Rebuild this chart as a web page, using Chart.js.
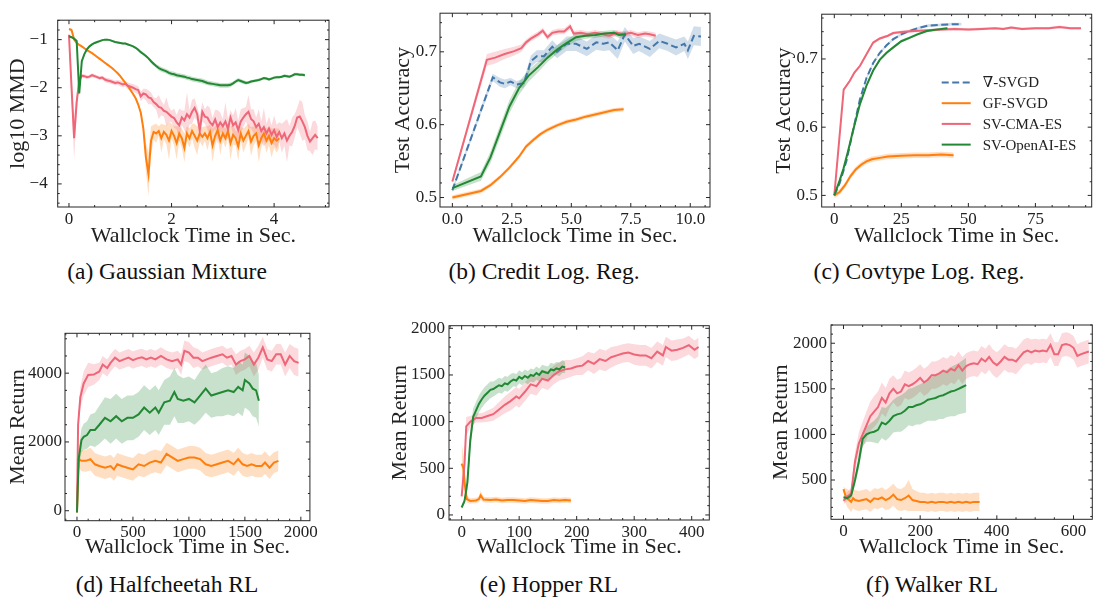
<!DOCTYPE html>
<html>
<head>
<meta charset="utf-8">
<script src="https://cdn.jsdelivr.net/npm/chart.js@4/dist/chart.umd.min.js"></script>
<style>
  body { margin: 0; background: #fff; width: 1094px; height: 601px; position: relative; overflow: hidden; font-family: 'Liberation Serif', 'DejaVu Serif', serif; }
  canvas { position: absolute; }
  .cap { position: absolute; font-size: 23.5px; color: #111; transform: translate(-50%, -50%); white-space: nowrap; line-height: 1; }
</style>
</head>
<body>
<div class="cap" style="left:167px;top:272px">(a) Gaussian Mixture</div>
<div class="cap" style="left:544px;top:272px">(b) Credit Log. Reg.</div>
<div class="cap" style="left:919px;top:272px">(c) Covtype Log. Reg.</div>
<div class="cap" style="left:167px;top:585px">(d) Halfcheetah RL</div>
<div class="cap" style="left:549px;top:585px">(e) Hopper RL</div>
<div class="cap" style="left:932px;top:585px">(f) Walker RL</div>
<script>
// series colours
const BLUE = '#4477AA', ORANGE = '#FF7F0E', PINK = '#EE6677', GREEN = '#228833';
const NAMES = ['\u2207-SVGD', 'GF-SVGD', 'SV-CMA-ES', 'SV-OpenAI-ES'];

// ---- (a) Gaussian mixture: log10 MMD over time ----
const mixXTicks = [0, 2, 4];
const mixYTicks = [-4, -3, -2, -1];
const mixTime = [
  0, 0.05, 0.1, 0.15, 0.2, 0.25, 0.3, 0.35, 0.4, 0.45,
  0.5, 0.55, 0.6, 0.65, 0.7, 0.75, 0.8, 0.85, 0.9, 0.95,
  1.0, 1.05, 1.1, 1.15, 1.2, 1.25, 1.3, 1.35, 1.4, 1.45,
  1.5, 1.55, 1.6, 1.65, 1.7, 1.75, 1.8, 1.85, 1.9, 1.95,
  2.0, 2.05, 2.1, 2.15, 2.2, 2.25, 2.3, 2.35, 2.4, 2.45,
  2.5, 2.55, 2.6, 2.65, 2.7, 2.75, 2.8, 2.85, 2.9, 2.95,
  3.0, 3.05, 3.1, 3.15, 3.2, 3.25, 3.3, 3.35, 3.4, 3.45,
  3.5, 3.55, 3.6, 3.65, 3.7, 3.75, 3.8, 3.85, 3.9, 3.95,
  4.0, 4.05, 4.1, 4.15, 4.2, 4.25, 4.3, 4.35, 4.4, 4.45,
  4.5, 4.55, 4.6, 4.65, 4.7, 4.75, 4.8, 4.85
];
const mixGf = [
  -0.78, -0.8, -1.0, -1.07, -1.11, -1.14, -1.18, -1.22, -1.25, -1.28,
  -1.32, -1.36, -1.4, -1.44, -1.48, -1.52, -1.56, -1.6, -1.65, -1.7,
  -1.76, -1.83, -1.9, -1.97, -2.05, -2.13, -2.22, -2.35, -2.52, -2.85,
  -3.45, -3.8, -3.1, -2.92, -2.95, -2.9, -3.05, -2.92, -2.98, -3.1,
  -2.9, -3.0, -3.15, -2.95, -3.05, -3.25, -2.95, -3.05, -2.9, -3.0,
  -3.1, -2.95, -3.02, -2.95, -3.05, -2.92, -3.2, -3.0, -2.88, -3.1,
  -2.95, -3.05, -2.9, -3.15, -2.98, -3.05, -3.22, -2.95, -3.1, -3.0,
  -2.9, -3.12, -3.0, -2.95, -3.2, -3.05, -2.95, -3.1, -3.0, -3.15,
  -3.05, -3.1, -3.05
];
const mixGfSd = [
  0.02, 0.03, 0.02, 0.02, 0.02, 0.02, 0.02, 0.02, 0.02, 0.02,
  0.02, 0.02, 0.02, 0.02, 0.02, 0.02, 0.02, 0.02, 0.02, 0.02,
  0.02, 0.02, 0.02, 0.02, 0.02, 0.02, 0.03, 0.03, 0.05, 0.1,
  0.3, 0.45, 0.3, 0.15, 0.2, 0.1, 0.3, 0.15, 0.2, 0.4,
  0.15, 0.2, 0.35, 0.15, 0.2, 0.3, 0.15, 0.2, 0.15, 0.25,
  0.3, 0.15, 0.2, 0.15, 0.25, 0.15, 0.35, 0.2, 0.15, 0.3,
  0.15, 0.2, 0.15, 0.35, 0.2, 0.15, 0.3, 0.15, 0.25, 0.2,
  0.15, 0.3, 0.2, 0.15, 0.35, 0.2, 0.15, 0.25, 0.2, 0.3,
  0.2, 0.25, 0.2
];
const mixCma = [
  -0.9, -2.0, -3.05, -2.3, -1.85, -1.75, -1.76, -1.78, -1.77, -1.74,
  -1.76, -1.78, -1.8, -1.79, -1.83, -1.85, -1.86, -1.88, -1.9, -1.89,
  -1.91, -1.93, -1.92, -1.96, -1.98, -2.0, -2.03, -2.05, -2.18, -2.12,
  -2.14, -2.2, -2.22, -2.3, -2.34, -2.4, -2.42, -2.48, -2.5, -2.55,
  -2.6, -2.63, -2.72, -2.78, -2.62, -2.68, -2.55, -2.62, -2.5, -2.42,
  -2.55, -2.88, -2.5, -2.6, -2.62, -2.72, -2.78, -2.66, -2.82, -2.72,
  -2.8, -2.7, -2.85, -2.62, -2.78, -2.72, -2.88, -2.7, -2.62, -2.55,
  -2.5, -2.65, -2.7, -2.82, -2.75, -2.9, -2.82, -2.95, -2.85, -2.98,
  -2.88, -3.02, -2.92, -3.05, -2.95, -3.1, -3.0, -2.92, -2.8, -2.62,
  -2.6, -2.7, -2.82, -3.0, -3.12, -3.05, -2.98, -3.05
];
const mixCmaSd = [
  0.03, 0.3, 0.45, 0.2, 0.05, 0.04, 0.04, 0.04, 0.04, 0.04,
  0.04, 0.04, 0.04, 0.04, 0.05, 0.05, 0.05, 0.05, 0.05, 0.05,
  0.06, 0.06, 0.06, 0.07, 0.07, 0.08, 0.08, 0.08, 0.1, 0.1,
  0.12, 0.15, 0.12, 0.1, 0.12, 0.25, 0.15, 0.12, 0.3, 0.15,
  0.12, 0.2, 0.15, 0.35, 0.15, 0.2, 0.45, 0.15, 0.25, 0.2,
  0.15, 0.3, 0.2, 0.15, 0.25, 0.3, 0.15, 0.2, 0.35, 0.2,
  0.15, 0.4, 0.2, 0.15, 0.2, 0.3, 0.2, 0.25, 0.2, 0.15,
  0.35, 0.2, 0.25, 0.2, 0.3, 0.2, 0.4, 0.2, 0.25, 0.2,
  0.3, 0.25, 0.2, 0.3, 0.25, 0.45, 0.2, 0.3, 0.25, 0.2,
  0.35, 0.4, 0.25, 0.3, 0.2, 0.35, 0.3, 0.25
];
const mixOai = [
  -0.93, -0.95, -0.98, -1.03, -2.12, -1.45, -1.3, -1.2, -1.14, -1.1,
  -1.07, -1.05, -1.03, -1.01, -1.0, -1.0, -1.01, -1.03, -1.05, -1.06,
  -1.07, -1.08, -1.08, -1.1, -1.12, -1.14, -1.17, -1.21, -1.26, -1.3,
  -1.34, -1.39, -1.45, -1.5, -1.55, -1.59, -1.62, -1.64, -1.66, -1.69,
  -1.71, -1.72, -1.74, -1.75, -1.76, -1.77, -1.79, -1.8, -1.82, -1.83,
  -1.84, -1.85, -1.86, -1.88, -1.9, -1.91, -1.92, -1.93, -1.94, -1.95,
  -1.95, -1.95, -1.95, -1.94, -1.91, -1.87, -1.84, -1.86, -1.88, -1.9,
  -1.89, -1.87, -1.86, -1.85, -1.84, -1.82, -1.8, -1.81, -1.83, -1.81,
  -1.79, -1.78, -1.78, -1.77, -1.75, -1.76, -1.77, -1.75, -1.72, -1.72,
  -1.73, -1.73, -1.74
];
const mixOaiSd = [
  0.02, 0.02, 0.02, 0.03, 0.05, 0.04, 0.02, 0.02, 0.02, 0.02,
  0.02, 0.02, 0.02, 0.02, 0.02, 0.02, 0.02, 0.02, 0.02, 0.02,
  0.02, 0.02, 0.02, 0.02, 0.02, 0.02, 0.02, 0.03, 0.03, 0.03,
  0.03, 0.03, 0.04, 0.04, 0.04, 0.05, 0.05, 0.05, 0.05, 0.05,
  0.05, 0.05, 0.05, 0.05, 0.05, 0.05, 0.05, 0.05, 0.05, 0.05,
  0.05, 0.05, 0.05, 0.05, 0.05, 0.05, 0.05, 0.05, 0.05, 0.05,
  0.05, 0.05, 0.05, 0.05, 0.04, 0.04, 0.04, 0.04, 0.04, 0.04,
  0.03, 0.03, 0.03, 0.03, 0.03, 0.03, 0.03, 0.03, 0.03, 0.03,
  0.03, 0.03, 0.03, 0.03, 0.03, 0.03, 0.03, 0.03, 0.03, 0.03,
  0.03, 0.03, 0.03
];

// ---- (b) Credit logistic regression ----
const crXTicks = [0, 2.5, 5, 7.5, 10];
const crYTicks = [0.5, 0.6, 0.7];
const crGradT = [0, 1.7, 2.0, 2.2, 2.45, 2.7, 3.0, 3.15, 3.3, 3.55, 3.85, 4.2, 4.4, 4.8, 5.2, 5.65, 6.05, 6.35, 6.6, 6.95, 7.25, 7.6, 7.85, 8.3, 8.7, 9.05, 9.4, 9.75, 9.9, 10.15, 10.45];
const crGrad = [0.510, 0.665, 0.658, 0.656, 0.659, 0.655, 0.657, 0.671, 0.687, 0.694, 0.694, 0.707, 0.700, 0.711, 0.711, 0.704, 0.713, 0.711, 0.713, 0.702, 0.724, 0.708, 0.711, 0.704, 0.715, 0.711, 0.706, 0.711, 0.702, 0.722, 0.721];
const crGradSd = [0.003, 0.005, 0.006, 0.006, 0.005, 0.005, 0.006, 0.007, 0.008, 0.008, 0.008, 0.009, 0.009, 0.01, 0.01, 0.01, 0.01, 0.01, 0.011, 0.012, 0.01, 0.011, 0.01, 0.011, 0.01, 0.01, 0.011, 0.01, 0.012, 0.013, 0.013];
const crGfT = [0, 1.2, 1.6, 2.0, 2.4, 2.8, 3.1, 3.4, 3.7, 4.0, 4.4, 4.8, 5.2, 5.6, 6.0, 6.4, 6.8, 7.2];
const crGf = [0.5, 0.509, 0.517, 0.528, 0.541, 0.556, 0.57, 0.579, 0.587, 0.593, 0.599, 0.604, 0.607, 0.611, 0.614, 0.617, 0.62, 0.621];
const crCmaT = [0, 1.45, 1.8, 2.2, 2.6, 2.9, 3.1, 3.3, 3.6, 3.8, 4.0, 4.2, 4.45, 4.7, 4.95, 5.1, 5.4, 5.7, 6.0, 6.3, 6.6, 6.9, 7.2, 7.5, 7.8, 8.1, 8.3, 8.55];
const crCma = [0.522, 0.689, 0.692, 0.697, 0.701, 0.705, 0.713, 0.718, 0.724, 0.729, 0.720, 0.726, 0.728, 0.728, 0.735, 0.725, 0.726, 0.724, 0.726, 0.724, 0.722, 0.726, 0.724, 0.726, 0.723, 0.725, 0.724, 0.722];
const crCmaSd = [0.003, 0.008, 0.008, 0.007, 0.006, 0.005, 0.004, 0.004, 0.004, 0.004, 0.004, 0.004, 0.004, 0.004, 0.004, 0.004, 0.004, 0.004, 0.004, 0.004, 0.004, 0.004, 0.004, 0.004, 0.004, 0.004, 0.004, 0.004];
const crOaiT = [0, 1.2, 1.6, 2.0, 2.4, 2.8, 3.2, 3.6, 4.0, 4.4, 4.8, 5.2, 5.6, 6.0, 6.4, 6.8, 7.0, 7.3];
const crOai = [0.513, 0.529, 0.555, 0.59, 0.625, 0.65, 0.667, 0.679, 0.692, 0.703, 0.712, 0.72, 0.722, 0.723, 0.725, 0.726, 0.723, 0.724];
const crOaiSd = [0.004, 0.006, 0.008, 0.009, 0.009, 0.009, 0.008, 0.007, 0.006, 0.006, 0.005, 0.005, 0.004, 0.004, 0.004, 0.004, 0.004, 0.004];

// ---- (c) Covtype logistic regression ----
const cvXTicks = [0, 25, 50, 75];
const cvYTicks = [0.5, 0.6, 0.7];
const cvGradT = [0, 2, 4.5, 7, 9.5, 12, 14.5, 17, 19.5, 22, 25, 28, 31, 35, 40, 44, 47.5];
const cvGrad = [0.5, 0.518, 0.55, 0.595, 0.64, 0.672, 0.694, 0.709, 0.72, 0.729, 0.736, 0.741, 0.745, 0.749, 0.75, 0.751, 0.751];
const cvGfT = [0, 2, 4, 6, 8, 10, 12, 14, 17, 20, 25, 30, 35, 40, 44.5];
const cvGf = [0.5, 0.505, 0.515, 0.528, 0.538, 0.545, 0.55, 0.553, 0.555, 0.557, 0.558, 0.559, 0.559, 0.56, 0.559];
const cvCmaT = [0, 3.5, 5.8, 7.5, 9.6, 12, 14.5, 17, 20, 22, 26, 30, 35, 40, 45, 50, 55, 60, 63, 66, 70, 75, 80, 84, 88, 92];
const cvCma = [0.5, 0.655, 0.668, 0.68, 0.69, 0.707, 0.724, 0.73, 0.734, 0.738, 0.74, 0.741, 0.742, 0.743, 0.744, 0.743, 0.744, 0.745, 0.744, 0.746, 0.744, 0.745, 0.745, 0.747, 0.745, 0.745];
const cvOaiT = [0, 2, 3.4, 5, 7, 9.5, 12, 14.5, 17, 19.5, 22, 25, 28, 31, 34.5, 38, 42.2];
const cvOai = [0.5, 0.522, 0.539, 0.563, 0.595, 0.633, 0.661, 0.683, 0.699, 0.709, 0.717, 0.726, 0.731, 0.736, 0.741, 0.743, 0.745];

// ---- (d) Halfcheetah ----
const hcXTicks = [0, 500, 1000, 1500, 2000];
const hcYTicks = [0, 2000, 4000];
const hcCmaT = [0, 10, 30, 60, 100, 150, 200, 230, 270, 300, 340, 380, 420, 460, 500, 540, 580, 620, 660, 700, 750, 800, 850, 900, 930, 960, 1000, 1040, 1080, 1120, 1160, 1200, 1250, 1300, 1340, 1380, 1420, 1460, 1500, 1540, 1580, 1620, 1660, 1700, 1740, 1780, 1820, 1860, 1900, 1940, 1980];
const hcCma = [0, 2500, 3300, 3700, 3950, 3960, 4050, 4250, 4150, 4300, 4450, 4350, 4400, 4450, 4380, 4430, 4460, 4400, 4450, 4400, 4500, 4400, 4350, 4400, 4250, 4650, 4600, 4450, 4450, 4350, 4400, 4450, 4500, 4550, 4450, 4500, 4250, 4350, 4400, 4500, 4250, 4450, 4750, 4400, 4350, 4550, 4550, 4250, 4500, 4350, 4300];
const hcCmaSd = [0, 200, 300, 350, 350, 300, 250, 250, 250, 250, 250, 250, 250, 250, 250, 250, 250, 250, 250, 250, 250, 250, 250, 250, 300, 300, 300, 300, 250, 250, 250, 250, 250, 250, 250, 250, 300, 300, 300, 300, 350, 350, 300, 300, 300, 300, 300, 350, 350, 400, 400];
const hcOaiT = [0, 15, 40, 60, 90, 120, 160, 200, 250, 300, 350, 400, 450, 500, 550, 600, 650, 700, 730, 780, 830, 870, 900, 950, 1000, 1050, 1100, 1150, 1200, 1250, 1300, 1350, 1400, 1440, 1480, 1500, 1540, 1570, 1600, 1625];
const hcOai = [-50, 1500, 2050, 2150, 2200, 2350, 2350, 2500, 2700, 2600, 2750, 2600, 2700, 2700, 2800, 3000, 2850, 3000, 2850, 3150, 3200, 3450, 3250, 3200, 3250, 3150, 3350, 3550, 3350, 3400, 3450, 3500, 3450, 3600, 3500, 3800, 3700, 3550, 3500, 3200];
const hcOaiSd = [0, 300, 350, 380, 400, 450, 500, 550, 600, 650, 650, 650, 650, 650, 650, 650, 650, 650, 650, 650, 700, 700, 700, 650, 650, 650, 700, 700, 650, 650, 700, 700, 700, 750, 750, 800, 800, 800, 800, 750];
const hcGfT = [0, 15, 40, 80, 120, 160, 200, 250, 300, 330, 360, 400, 450, 500, 550, 600, 650, 700, 750, 800, 850, 900, 950, 1000, 1050, 1100, 1150, 1200, 1250, 1300, 1350, 1400, 1440, 1480, 1520, 1560, 1600, 1650, 1680, 1720, 1760, 1800];
const hcGf = [-50, 1500, 1450, 1450, 1500, 1350, 1300, 1250, 1300, 1200, 1350, 1300, 1250, 1200, 1350, 1300, 1400, 1450, 1400, 1650, 1550, 1450, 1500, 1550, 1550, 1500, 1350, 1300, 1350, 1400, 1450, 1350, 1500, 1350, 1300, 1350, 1300, 1300, 1400, 1250, 1400, 1450];
const hcGfSd = [0, 250, 300, 320, 330, 330, 330, 330, 330, 330, 330, 330, 330, 330, 330, 330, 330, 330, 330, 330, 330, 330, 330, 330, 330, 330, 330, 330, 330, 330, 330, 330, 330, 330, 330, 330, 330, 330, 330, 330, 300, 300];

// ---- (e) Hopper ----
const hoXTicks = [0, 100, 200, 300, 400];
const hoYTicks = [0, 500, 1000, 1500, 2000];
const hoCmaT = [0, 5, 8, 15, 25, 35, 45, 55, 65, 75, 85, 95, 100, 110, 120, 130, 140, 150, 160, 170, 180, 190, 200, 210, 220, 230, 240, 250, 260, 270, 280, 290, 300, 310, 320, 330, 340, 350, 355, 365, 375, 385, 395, 405, 412];
const hoCma = [200, 550, 950, 1000, 1040, 1040, 1060, 1080, 1130, 1180, 1220, 1270, 1250, 1320, 1400, 1380, 1460, 1440, 1500, 1540, 1560, 1570, 1590, 1600, 1650, 1620, 1670, 1650, 1690, 1710, 1730, 1740, 1720, 1710, 1710, 1680, 1750, 1710, 1800, 1760, 1770, 1790, 1820, 1770, 1800];
const hoCmaSd = [50, 100, 100, 60, 50, 50, 60, 70, 80, 90, 100, 100, 100, 100, 100, 100, 100, 100, 100, 100, 100, 90, 90, 100, 100, 110, 110, 110, 110, 100, 100, 100, 110, 110, 110, 110, 110, 110, 110, 110, 110, 100, 100, 100, 100];
const hoOaiT = [0, 5, 10, 15, 20, 25, 30, 35, 40, 45, 50, 55, 60, 65, 70, 75, 80, 85, 90, 95, 100, 105, 110, 115, 120, 125, 130, 135, 140, 145, 150, 155, 160, 165, 170, 175, 180];
const hoOai = [80, 150, 350, 800, 1050, 1120, 1190, 1240, 1280, 1310, 1340, 1350, 1370, 1390, 1380, 1410, 1400, 1430, 1450, 1440, 1480, 1460, 1490, 1470, 1500, 1490, 1520, 1500, 1540, 1530, 1520, 1560, 1550, 1570, 1560, 1590, 1580];
const hoOaiSd = [20, 30, 80, 100, 90, 90, 90, 90, 90, 90, 90, 80, 80, 80, 80, 80, 80, 80, 70, 70, 70, 70, 70, 70, 70, 70, 70, 70, 70, 70, 70, 70, 70, 70, 70, 70, 60];
const hoGfT = [0, 3, 6, 9, 15, 25, 30, 33, 38, 50, 60, 70, 80, 90, 100, 110, 120, 130, 140, 150, 160, 170, 180, 190];
const hoGf = [550, 500, 300, 170, 150, 155, 170, 210, 165, 160, 165, 155, 160, 160, 155, 150, 160, 155, 150, 150, 160, 155, 160, 155];
const hoGfSd = [220, 150, 100, 40, 30, 30, 30, 50, 30, 30, 30, 30, 30, 30, 30, 30, 30, 30, 30, 30, 30, 30, 30, 30];

// ---- (f) Walker ----
const wkXTicks = [0, 200, 400, 600];
const wkYTicks = [500, 1000, 1500, 2000];
const wkCmaT = [0, 10, 20, 30, 40, 50, 60, 70, 80, 90, 100, 110, 120, 130, 140, 150, 160, 170, 180, 190, 200, 210, 220, 230, 240, 250, 260, 270, 280, 290, 300, 310, 320, 330, 340, 350, 360, 370, 380, 390, 400, 410, 420, 430, 440, 450, 460, 470, 480, 490, 500, 510, 520, 530, 540, 550, 560, 570, 580, 590, 600, 610, 620, 640];
const wkCma = [270, 320, 350, 700, 900, 1000, 1100, 1200, 1250, 1300, 1400, 1350, 1450, 1500, 1450, 1470, 1550, 1530, 1550, 1580, 1620, 1570, 1600, 1650, 1650, 1670, 1700, 1680, 1720, 1700, 1760, 1700, 1750, 1770, 1780, 1770, 1830, 1800, 1850, 1790, 1760, 1800, 1850, 1820, 1820, 1800, 1850, 1900, 1920, 1900, 1920, 1910, 1920, 1910, 1980, 1880, 1880, 1980, 1990, 1980, 1950, 1860, 1880, 1910];
const wkCmaSd = [40, 50, 60, 100, 120, 140, 150, 160, 170, 170, 170, 160, 160, 150, 150, 150, 150, 150, 150, 150, 150, 150, 150, 150, 150, 150, 150, 150, 150, 150, 150, 150, 140, 140, 140, 140, 140, 140, 140, 140, 140, 140, 140, 140, 140, 140, 140, 140, 140, 140, 130, 130, 130, 130, 130, 130, 130, 130, 130, 130, 130, 130, 130, 130];
const wkOaiT = [0, 10, 20, 30, 40, 50, 60, 70, 80, 90, 100, 110, 120, 130, 140, 150, 160, 170, 180, 190, 200, 210, 220, 230, 240, 250, 260, 270, 280, 290, 300, 310, 320];
const wkOai = [310, 300, 330, 500, 700, 950, 1000, 1020, 1030, 1050, 1130, 1110, 1150, 1200, 1220, 1230, 1260, 1300, 1300, 1320, 1330, 1350, 1380, 1390, 1400, 1420, 1430, 1450, 1470, 1480, 1500, 1520, 1540];
const wkOaiSd = [20, 20, 30, 60, 80, 80, 80, 100, 120, 150, 170, 180, 180, 180, 190, 200, 200, 200, 210, 210, 220, 220, 230, 240, 250, 250, 260, 260, 270, 280, 280, 290, 300];
const wkGfT = [0, 5, 10, 20, 25, 30, 40, 50, 60, 70, 80, 90, 100, 110, 120, 130, 140, 150, 160, 170, 180, 190, 200, 210, 220, 230, 240, 250, 260, 270, 280, 290, 300, 310, 320, 330, 340, 355];
const wkGf = [400, 330, 300, 260, 300, 280, 270, 280, 290, 260, 300, 290, 310, 280, 300, 340, 290, 280, 300, 330, 280, 270, 260, 260, 250, 260, 250, 260, 260, 250, 260, 250, 260, 250, 260, 250, 260, 260];
const wkGfSd = [30, 80, 100, 110, 110, 110, 110, 110, 110, 110, 110, 110, 110, 110, 120, 120, 120, 120, 130, 170, 120, 110, 100, 100, 100, 100, 100, 100, 100, 100, 100, 100, 100, 100, 100, 100, 100, 100];

const FONT = "'Liberation Serif', 'DejaVu Serif', serif";
const INK = '#222';

function fade(hex, a) {
  const n = parseInt(hex.slice(1), 16);
  return `rgba(${n >> 16}, ${(n >> 8) & 255}, ${n & 255}, ${a})`;
}

// inward ticks on all four sides plus the box, matplotlib style
function framePlugin(xMinor, yMinor) {
  return {
    id: 'frame',
    afterDraw(chart) {
      const { ctx, chartArea: a, scales: { x, y } } = chart;
      ctx.save();
      ctx.strokeStyle = '#262626';
      ctx.lineWidth = 1;
      ctx.strokeRect(a.left, a.top, a.right - a.left, a.bottom - a.top);
      const marks = (scale, step) => {
        const major = scale.ticks.map(t => t.value);
        const out = major.map(v => [v, 4]);
        for (let v = Math.ceil(scale.min / step) * step; v <= scale.max; v += step) {
          if (!major.some(m => Math.abs(m - v) < step * 0.01)) out.push([v, 2]);
        }
        return out;
      };
      ctx.beginPath();
      marks(x, xMinor).forEach(([v, len]) => {
        const px = x.getPixelForValue(v);
        if (px < a.left || px > a.right) return;
        ctx.moveTo(px, a.bottom); ctx.lineTo(px, a.bottom - len);
        ctx.moveTo(px, a.top); ctx.lineTo(px, a.top + len);
      });
      marks(y, yMinor).forEach(([v, len]) => {
        const py = y.getPixelForValue(v);
        if (py < a.top || py > a.bottom) return;
        ctx.moveTo(a.left, py); ctx.lineTo(a.left + len, py);
        ctx.moveTo(a.right, py); ctx.lineTo(a.right - len, py);
      });
      ctx.stroke();
      ctx.restore();
    }
  };
}

// legend drawn inside the plot area
function insetLegend(dx, dy, gap) {
  return {
    id: 'insetLegend',
    afterDraw(chart) {
      const { ctx, chartArea: a } = chart;
      const items = chart.data.datasets.filter(d => d.label);
      ctx.save();
      ctx.font = `15px ${FONT}`;
      ctx.textBaseline = 'middle';
      ctx.fillStyle = INK;
      items.forEach((d, i) => {
        const x0 = a.left + dx, y0 = a.top + dy + i * gap;
        ctx.strokeStyle = d.borderColor;
        ctx.lineWidth = 2;
        ctx.setLineDash(d.borderDash || []);
        ctx.beginPath(); ctx.moveTo(x0, y0); ctx.lineTo(x0 + 29, y0); ctx.stroke();
        ctx.setLineDash([]);
        ctx.fillText(d.label, x0 + 41, y0 + 1);
      });
      ctx.restore();
    }
  };
}

function buildDatasets(series) {
  const sets = [];
  series.forEach((s, k) => {
    const sd = i => Array.isArray(s.sd) ? s.sd[i] : s.sd;
    sets.push({ label: '', data: s.y.map((v, i) => ({ x: s.x[i], y: v + sd(i) })), fill: '+1',
      backgroundColor: fade(s.color, 0.25), borderWidth: 0, pointRadius: 0, order: 40 - k });
    sets.push({ label: '', data: s.y.map((v, i) => ({ x: s.x[i], y: v - sd(i) })), fill: false,
      borderWidth: 0, pointRadius: 0, order: 40 - k });
    sets.push({ label: s.label, data: s.y.map((v, i) => ({ x: s.x[i], y: v })), fill: false,
      borderColor: s.color, borderWidth: 2, borderDash: s.dash || [], pointRadius: 0, order: 20 - k });
  });
  return sets;
}

function panel(box, area, ax, series, extra) {
  const cv = document.createElement('canvas');
  cv.width = box.width; cv.height = box.height;
  cv.style.left = box.left + 'px'; cv.style.top = box.top + 'px';
  document.body.appendChild(cv);
  const tickFont = { family: FONT, size: 17 };
  const titleFont = { family: FONT, size: 22 };
  const plugins = [framePlugin(ax.xMinor, ax.yMinor)];
  if (extra) plugins.push(extra);
  const fixTicks = list => s => { s.ticks = list.map(value => ({ value })); };
  return new Chart(cv, {
    type: 'line',
    data: { datasets: buildDatasets(series) },
    plugins,
    options: {
      responsive: false, animation: false, devicePixelRatio: 1,
      layout: { padding: { top: area.t - box.top, right: box.left + box.width - area.r, left: 0, bottom: 0 } },
      plugins: { legend: { display: false }, tooltip: { enabled: false } },
      elements: { line: { tension: 0 } },
      scales: {
        x: {
          type: 'linear', min: ax.xMin, max: ax.xMax,
          afterBuildTicks: fixTicks(ax.xTicks),
          afterFit: s => { s.height = box.top + box.height - area.b; },
          grid: { display: false, drawTicks: false }, border: { display: false },
          ticks: { padding: 2, maxRotation: 0, autoSkip: false,
            font: tickFont, color: INK, callback: ax.xFmt || (v => String(v)) },
          title: { display: true, text: 'Wallclock Time in Sec.', font: titleFont, color: INK, padding: 0 }
        },
        y: {
          type: 'linear', min: ax.yMin, max: ax.yMax,
          afterBuildTicks: fixTicks(ax.yTicks),
          afterFit: s => { s.width = area.l - box.left; },
          grid: { display: false, drawTicks: false }, border: { display: false },
          ticks: { padding: ax.yPad, autoSkip: false,
            font: tickFont, color: INK, callback: ax.yFmt || (v => String(v)) },
          title: { display: true, text: ax.yTitle, font: titleFont, color: INK, padding: 0 }
        }
      }
    }
  });
}

const oneDec = v => Number(v).toFixed(1);

panel({ left: 5, top: 0, width: 328, height: 249 }, { l: 57.7, t: 5, r: 329, b: 207 },
  { xMin: -0.22, xMax: 5.07, xTicks: mixXTicks, xMinor: 0.5, yMin: -4.48, yMax: -0.596, yTicks: mixYTicks, yMinor: 0.2, yPad: 10,
    yTitle: 'log10 MMD', yFmt: v => (v < 0 ? '\u2212' : '') + Math.abs(Math.round(v)) },
  [
    { label: NAMES[1], color: ORANGE, x: mixTime, y: mixGf, sd: mixGfSd },
    { label: NAMES[2], color: PINK, x: mixTime, y: mixCma, sd: mixCmaSd },
    { label: NAMES[3], color: GREEN, x: mixTime, y: mixOai, sd: mixOaiSd }
  ]);

panel({ left: 390, top: 0, width: 324, height: 249 }, { l: 440, t: 5, r: 710, b: 207 },
  { xMin: -0.52, xMax: 10.83, xTicks: crXTicks, xMinor: 0.625, yMin: 0.487, yMax: 0.753, yTicks: crYTicks, yMinor: 0.02, yPad: 3,
    yTitle: 'Test Accuracy', xFmt: oneDec, yFmt: oneDec },
  [
    { label: NAMES[0], color: BLUE, dash: [7, 3.5], x: crGradT, y: crGrad, sd: crGradSd },
    { label: NAMES[1], color: ORANGE, x: crGfT, y: crGf, sd: 0.003 },
    { label: NAMES[2], color: PINK, x: crCmaT, y: crCma, sd: crCmaSd },
    { label: NAMES[3], color: GREEN, x: crOaiT, y: crOai, sd: crOaiSd }
  ]);

panel({ left: 771, top: 0, width: 323, height: 249 }, { l: 821.7, t: 5.7, r: 1091.7, b: 207 },
  { xMin: -4.7, xMax: 96, xTicks: cvXTicks, xMinor: 6.25, yMin: 0.483, yMax: 0.7656, yTicks: cvYTicks, yMinor: 0.02, yPad: 4,
    yTitle: 'Test Accuracy', yFmt: oneDec },
  [
    { label: NAMES[0], color: BLUE, dash: [7, 3.5], x: cvGradT, y: cvGrad, sd: 0.002 },
    { label: NAMES[1], color: ORANGE, x: cvGfT, y: cvGf, sd: 0.004 },
    { label: NAMES[2], color: PINK, x: cvCmaT, y: cvCma, sd: 0.002 },
    { label: NAMES[3], color: GREEN, x: cvOaiT, y: cvOai, sd: 0.002 }
  ], insetLegend(120, 68.3, 20.7));

panel({ left: 5, top: 300, width: 315, height: 260 }, { l: 65, t: 333.3, r: 316, b: 520.7 },
  { xMin: -107, xMax: 2081, xTicks: hcXTicks, xMinor: 100, yMin: -290, yMax: 5159, yTicks: hcYTicks, yMinor: 500, yPad: 3,
    yTitle: 'Mean Return' },
  [
    { label: NAMES[1], color: ORANGE, x: hcGfT, y: hcGf, sd: hcGfSd },
    { label: NAMES[2], color: PINK, x: hcCmaT, y: hcCma, sd: hcCmaSd },
    { label: NAMES[3], color: GREEN, x: hcOaiT, y: hcOai, sd: hcOaiSd }
  ]);

panel({ left: 387, top: 300, width: 327, height: 260 }, { l: 449, t: 325.7, r: 709.3, b: 520 },
  { xMin: -22, xMax: 430.6, xTicks: hoXTicks, xMinor: 20, yMin: -54, yMax: 2028, yTicks: hoYTicks, yMinor: 100, yPad: 4,
    yTitle: 'Mean Return' },
  [
    { label: NAMES[1], color: ORANGE, x: hoGfT, y: hoGf, sd: hoGfSd },
    { label: NAMES[2], color: PINK, x: hoCmaT, y: hoCma, sd: hoCmaSd },
    { label: NAMES[3], color: GREEN, x: hoOaiT, y: hoOai, sd: hoOaiSd }
  ]);

panel({ left: 768, top: 300, width: 326, height: 260 }, { l: 831, t: 325, r: 1092.3, b: 519.3 },
  { xMin: -32.6, xMax: 649, xTicks: wkXTicks, xMinor: 50, yMin: 69, yMax: 2200, yTicks: wkYTicks, yMinor: 100, yPad: 4,
    yTitle: 'Mean Return' },
  [
    { label: NAMES[1], color: ORANGE, x: wkGfT, y: wkGf, sd: wkGfSd },
    { label: NAMES[2], color: PINK, x: wkCmaT, y: wkCma, sd: wkCmaSd },
    { label: NAMES[3], color: GREEN, x: wkOaiT, y: wkOai, sd: wkOaiSd }
  ]);
</script>
</body>
</html>
